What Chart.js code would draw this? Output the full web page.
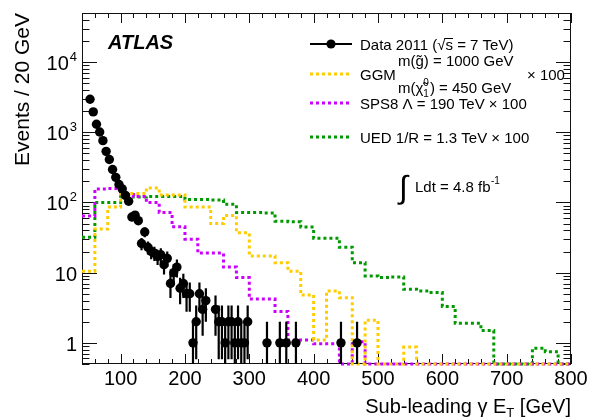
<!DOCTYPE html>
<html><head><meta charset="utf-8">
<script src="https://cdn.jsdelivr.net/npm/chart.js@4/dist/chart.umd.min.js"></script>
<style>html,body{margin:0;padding:0;background:#fff}#wrap{width:602px;height:420px;position:relative}</style>
</head><body><div id="wrap"><canvas id="c"></canvas></div>
<script>
// ---- data ----
const binEdges = [40,60,80,100,120,140,160,180,200,220,240,260,280,300,320,340,360,380,400,420,440,460,480,500,520,540,560,580,600,620,640,660,680,700,720,740,760,780,800];
const ggmValues  = [10.5,42,86,134,134,161,128,128,86,86,50,65,37,17.3,17.3,13.8,10.5,4.8,1.1,5.5,4.4,0,2.1,0,0,0.87,0,0,0,0,0,0,0,0,0,0,0,0];
const sps8Values = [64,156,158,130,122,100,72,45,30,19,19,12,8.5,4.2,4.2,2.8,1.1,1.1,0.97,0.97,0,1.04,0,0,0,0,0,0,0,0,0,0,0,0,0,0,0,0];
const uedValues  = [32,100,100,120,120,122,122,122,110,110,108,94,72,72,71,54,53,44.6,31,31,23,13.9,9,8.5,8.7,5.8,5.5,5.2,3.3,1.9,1.9,1.5,0,0,0,0.84,0.75,0];
const dataX = [52.5,57.5,62.5,67.5,72.5,77.5,82.5,87.5,92.5,97.5,102.5,107.5,112.5,117.5,122.5,127.5,132.5,137.5,142.5,147.5,152.5,157.5,162.5,167.5,172.5,177.5,182.5,187.5,192.5,197.5,202.5,207.5,212.5,217.5,222.5,227.5,232.5,247.5,252.5,257.5,262.5,267.5,272.5,277.5,282.5,287.5,292.5,297.5,327.5,347.5,357.5,372.5,442.5,467.5];
const dataY = [2950,1950,1300,1010,760,535,410,295,228,180,156,126,104,62,66,55,26,38,23,20,19,17,18,13,16,7,10,12,6,7,5,5,1,2,5,3,4,3,2,2,1,2,2,1,2,1,1,2,1,1,1,1,1,1];
const xTickValues = [100,200,300,400,500,600,700,800];
const yDecades = [1,10,100,1000,10000];
const yTickLabels = ['1','10','10|2','10|3','10|4'];

const Y_MIN = 0.5, Y_MAX = 50000, X_MIN = 40, X_MAX = 800;
const FONT = '"Liberation Sans", Arial, Helvetica, sans-serif';
const C_GGM = '#FFCC00', C_SPS8 = '#CC00FF', C_UED = '#009900';

function histPoints(vals){
  return binEdges.map((e,i)=>{
    const v = vals[Math.min(i, vals.length-1)];
    return {x:e, y: v>0 ? v : Y_MIN};
  });
}
function histDS(label, vals, color, order){
  return {type:'line', label, data: histPoints(vals), stepped:true, borderColor:color,
    borderWidth:3, borderDash:[3,3], pointRadius:0, fill:false, clip:false, order, tension:0};
}

const framePlugin = {
  id:'frame',
  beforeDatasetsDraw(chart){
    const {ctx, chartArea:a, scales} = chart;
    const xs = scales.x, ys = scales.y;
    ctx.save();
    ctx.strokeStyle = '#111'; ctx.lineWidth = 1;
    ctx.strokeRect(a.left+0.5, a.top+0.5, a.right-a.left-1, a.bottom-a.top-1);
    ctx.beginPath();
    for (let v = X_MIN; v <= X_MAX; v += 20){
      const px = Math.round(xs.getPixelForValue(v))+0.5;
      const len = (v % 100 === 0) ? 10 : 5;
      ctx.moveTo(px, a.bottom); ctx.lineTo(px, a.bottom-len);
      ctx.moveTo(px, a.top); ctx.lineTo(px, a.top+len);
    }
    for (let d = -1; d <= 4; d++){
      for (let m = 1; m <= 9; m++){
        const v = m*Math.pow(10,d);
        if (v < Y_MIN || v > Y_MAX) continue;
        const py = Math.round(ys.getPixelForValue(v))+0.5;
        const len = m===1 ? 15 : 7.5;
        ctx.moveTo(a.left, py); ctx.lineTo(a.left+len, py);
        ctx.moveTo(a.right, py); ctx.lineTo(a.right-len, py);
      }
    }
    ctx.stroke();
    ctx.restore();
  },
  afterDatasetsDraw(chart){
    const {ctx, chartArea:a, scales} = chart;
    const xs = scales.x, ys = scales.y;
    ctx.save();
    ctx.strokeStyle = '#000'; ctx.lineWidth = 2.2;
    ctx.beginPath();
    dataX.forEach((x,i)=>{
      const n = dataY[i];
      const hi = n + Math.sqrt(n), lo = n - Math.sqrt(n);
      const px = xs.getPixelForValue(x);
      const pyHi = ys.getPixelForValue(hi);
      const pyLo = lo > Y_MIN ? ys.getPixelForValue(lo) : a.bottom;
      ctx.moveTo(px, pyHi); ctx.lineTo(px, pyLo);
    });
    ctx.stroke();
    ctx.restore();
  },
  afterDraw(chart){
    const {ctx, chartArea:a, scales} = chart;
    const ys = scales.y;
    ctx.save();
    ctx.fillStyle = '#000';
    // y tick labels
    yDecades.forEach((v,i)=>{
      const py = ys.getPixelForValue(v);
      const parts = yTickLabels[i].split('|');
      ctx.font = '20px '+FONT;
      const w1 = ctx.measureText(parts[0]).width;
      let w2 = 0;
      if (parts[1]) { ctx.font = '13px '+FONT; w2 = ctx.measureText(parts[1]).width + 1; }
      const xEnd = 77;
      ctx.font = '20px '+FONT; ctx.textAlign='left'; ctx.textBaseline='alphabetic';
      ctx.fillText(parts[0], xEnd - w2 - w1, py + 8);
      if (parts[1]) { ctx.font = '13px '+FONT; ctx.fillText(parts[1], xEnd - w2 + 1, py - 1); }
    });
    // x title with subscript
    ctx.textBaseline = 'alphabetic';
    const t1 = 'Sub-leading \u03B3 E', t2 = 'T', t3 = ' [GeV]';
    ctx.font = '20px '+FONT; const w1 = ctx.measureText(t1).width, w3 = ctx.measureText(t3).width;
    ctx.font = '13px '+FONT; const w2 = ctx.measureText(t2).width;
    let x = a.right - (w1+w2+w3);
    const base = 413;
    ctx.font = '20px '+FONT; ctx.fillText(t1, x, base); x += w1;
    ctx.font = '13px '+FONT; ctx.fillText(t2, x, base+4); x += w2;
    ctx.font = '20px '+FONT; ctx.fillText(t3, x, base);
    // ATLAS label
    ctx.font = 'italic bold 20px '+FONT;
    ctx.fillText('ATLAS', 108, 49);
    // legend
    const lx0 = 310, lx1 = 352, tx = 360;
    const F = '15px '+FONT;
    ctx.strokeStyle='#000'; ctx.lineWidth=2; ctx.setLineDash([]);
    ctx.beginPath(); ctx.moveTo(lx0,44); ctx.lineTo(lx1,44); ctx.stroke();
    ctx.beginPath(); ctx.arc(331,44,4.6,0,Math.PI*2); ctx.fill();
    ctx.font = F;
    const dpre = 'Data 2011 (\u221A';
    ctx.fillText(dpre+'s = 7 TeV)', tx, 49.5);
    const sx = tx + ctx.measureText(dpre).width, sw = ctx.measureText('s').width;
    ctx.lineWidth = 1; ctx.beginPath(); ctx.moveTo(sx-1, 38.5); ctx.lineTo(sx+sw, 38.5); ctx.stroke();
    function legLine(y,color){
      ctx.strokeStyle=color; ctx.lineWidth=3; ctx.setLineDash([3,3]);
      ctx.beginPath(); ctx.moveTo(lx0,y); ctx.lineTo(lx1,y); ctx.stroke(); ctx.setLineDash([]);
    }
    legLine(74, C_GGM);
    ctx.font = F; ctx.fillText('GGM', tx, 79.5);
    ctx.fillText('m(g\u0303) = 1000 GeV', 398, 66);
    let cx = 398;
    const c1 = 'm(\u03C7\u0303';
    ctx.fillText(c1, cx, 92.5); cx += ctx.measureText(c1).width;
    ctx.font = '10px '+FONT; ctx.fillText('0', cx, 86); ctx.fillText('1', cx, 96.5); cx += ctx.measureText('0').width + 1;
    ctx.font = F; ctx.fillText(') = 450 GeV', cx, 92.5);
    ctx.fillText('\u00D7 100', 527, 79.5);
    legLine(103, C_SPS8);
    ctx.fillText('SPS8 \u039B = 190 TeV \u00D7 100', tx, 108.5);
    legLine(137, C_UED);
    ctx.fillText('UED 1/R = 1.3 TeV \u00D7 100', tx, 142.5);
    ctx.font = '32px '+FONT; ctx.fillText('\u222B', 399, 198);
    ctx.font = F; ctx.fillText('Ldt = 4.8 fb', 415, 192);
    const lw = ctx.measureText('Ldt = 4.8 fb').width;
    ctx.font = '10px '+FONT; ctx.fillText('-1', 415+lw+0.5, 184);
    ctx.restore();
  }
};

new Chart(document.getElementById('c'), {
  data: {
    datasets: [
      {type:'line', label:'Data 2011', data: dataX.map((x,i)=>({x, y:dataY[i]})), showLine:false,
       pointRadius:4.7, pointBackgroundColor:'#000', pointBorderColor:'#000', pointBorderWidth:0, order:0},
      histDS('GGM', ggmValues, C_GGM, 1),
      histDS('SPS8', sps8Values, C_SPS8, 2),
      histDS('UED', uedValues, C_UED, 3)
    ]
  },
  options: {
    responsive:true, maintainAspectRatio:false, animation:false,
    layout:{padding:{top:13, right:31, bottom:0, left:0}},
    plugins:{legend:{display:false}, tooltip:{enabled:false}},
    scales:{
      x:{type:'linear', min:X_MIN, max:X_MAX,
        grid:{display:false, drawTicks:false}, border:{display:false},
        ticks:{font:{size:20, family:FONT}, color:'#000', padding:3, autoSkip:false, maxRotation:0},
        afterBuildTicks(s){ s.ticks = xTickValues.map(v=>({value:v})); },
        afterFit(s){ s.height = 56; }
      },
      y:{type:'logarithmic', min:Y_MIN, max:Y_MAX,
        grid:{display:false, drawTicks:false}, border:{display:false},
        ticks:{display:false},
        title:{display:true, text:'Events / 20 GeV', align:'end', color:'#000', font:{size:21, family:FONT}, padding:{top:11, bottom:0}},
        afterFit(s){ s.width = 82; }
      }
    }
  },
  plugins:[framePlugin]
});
</script></body></html>
